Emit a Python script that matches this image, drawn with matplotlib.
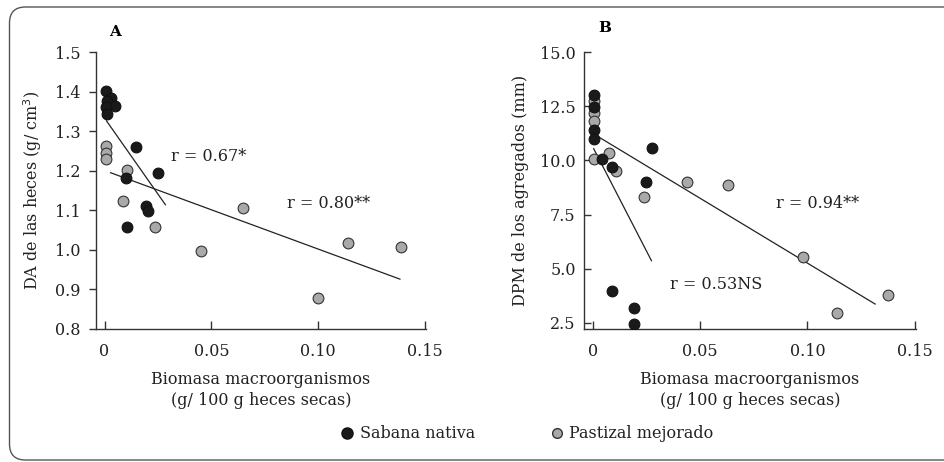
"""Macroorganism biomass vs. dung bulk density (A) and aggregate MWD (B)"""

import matplotlib
matplotlib.use("Agg")
import matplotlib.pyplot as plt
from matplotlib.patches import FancyBboxPatch
from matplotlib.lines import Line2D
from matplotlib.transforms import IdentityTransform

plt.rcParams["font.family"] = ["DejaVu Serif"]
plt.rcParams["font.size"] = 11.5

black_col = "#1a1a1a"
gray_col = "#a9a9a9"

# Panel A: DA de las heces (g/cm3)
a_nat_x = [0.0005, 0.003, 0.001, 0.005, 0.0005, 0.001, 0.0145, 0.0248, 0.0101, 0.0195, 0.0202, 0.0106]
a_nat_y = [1.402, 1.383, 1.376, 1.364, 1.362, 1.343, 1.261, 1.195, 1.182, 1.110, 1.099, 1.057]
a_pas_x = [0.0005, 0.0005, 0.0005, 0.0106, 0.0086, 0.0235, 0.0646, 0.0452, 0.1142, 0.1386, 0.1001]
a_pas_y = [1.262, 1.245, 1.230, 1.201, 1.123, 1.057, 1.106, 0.997, 1.017, 1.008, 0.879]
a_nat_fit_x = [0.0009, 0.0285]
a_nat_fit_y = [1.326, 1.114]
a_pas_fit_x = [0.0028, 0.1383]
a_pas_fit_y = [1.195, 0.926]

# Panel B: DPM de los agregados (mm)
b_nat_x = [0.0005, 0.0005, 0.0005, 0.0005, 0.0043, 0.009, 0.0277, 0.0248, 0.0092, 0.0193, 0.0192]
b_nat_y = [13.0, 12.45, 11.38, 10.97, 10.05, 9.70, 10.59, 9.00, 3.95, 3.18, 2.44]
b_pas_x = [0.0005, 0.0005, 0.0005, 0.0005, 0.0076, 0.011, 0.0438, 0.024, 0.0628, 0.0978, 0.1377, 0.1139]
b_pas_y = [12.72, 12.18, 11.82, 10.05, 10.35, 9.50, 8.98, 8.30, 8.85, 5.55, 3.78, 2.98]
b_nat_fit_x = [0.0005, 0.0274]
b_nat_fit_y = [10.54, 5.37]
b_pas_fit_x = [0.0025, 0.1315]
b_pas_fit_y = [11.10, 3.37]

x_ticks = [0, 0.05, 0.10, 0.15]
x_ticklabels = ["0", "0.05", "0.10", "0.15"]
a_yticks = [0.8, 0.9, 1.0, 1.1, 1.2, 1.3, 1.4, 1.5]
b_yticks = [2.5, 5.0, 7.5, 10.0, 12.5, 15.0]

fig = plt.figure(figsize=(9.45, 4.62), dpi=100)

# rounded frame around the figure (runs off the right edge)
frame = FancyBboxPatch((9.5, 2), 1000, 453, boxstyle="round,pad=0,rounding_size=16",
                       transform=IdentityTransform(), fill=False, ec="#555555", lw=1.0)
fig.add_artist(frame)

ax_a = fig.add_axes([0.1016, 0.2879, 0.3492, 0.5995])
ax_b = fig.add_axes([0.6180, 0.2879, 0.3513, 0.5995])

msize = 60
for ax, nx, ny, px, py in [(ax_a, a_nat_x, a_nat_y, a_pas_x, a_pas_y),
                           (ax_b, b_nat_x, b_nat_y, b_pas_x, b_pas_y)]:
    ax.scatter(px, py, s=msize, c=gray_col, edgecolors="#333333", linewidths=0.8, zorder=3)
    ax.scatter(nx, ny, s=msize, c=black_col, edgecolors="#111111", linewidths=0.8, zorder=4)
    for s in ["top", "right"]:
        ax.spines[s].set_visible(False)
    for s in ["left", "bottom"]:
        ax.spines[s].set_color("#333333")
        ax.spines[s].set_linewidth(1.0)
    ax.set_xlim(-0.004, 0.1505)
    ax.set_xticks(x_ticks)
    ax.set_xticklabels(x_ticklabels)
    ax.tick_params(axis="x", direction="in", length=6, width=1, color="#333333", pad=10,
                   labelcolor="#222222")
    ax.tick_params(axis="y", length=5, width=1, color="#333333", pad=6, labelcolor="#222222")
    ax.set_xlabel("Biomasa macroorganismos\n(g/ 100 g heces secas)", color="#222222",
                  labelpad=8, linespacing=1.3)

ax_a.plot(a_nat_fit_x, a_nat_fit_y, color="#222222", lw=0.9, zorder=2)
ax_a.plot(a_pas_fit_x, a_pas_fit_y, color="#222222", lw=0.9, zorder=2)
ax_a.set_ylim(0.8, 1.5)
ax_a.set_yticks(a_yticks)
ax_a.set_yticklabels([f"{v:.1f}" for v in a_yticks])
ax_a.tick_params(axis="y", direction="out")
ax_a.set_ylabel("DA de las heces (g/ cm$^3$)", color="#222222", labelpad=8)
ax_a.text(0.0312, 1.237, "r = 0.67*", va="center", ha="left", color="#222222")
ax_a.text(0.0854, 1.117, "r = 0.80**", va="center", ha="left", color="#222222")
ax_a.text(0.0021, 1.551, "A", fontweight="bold", ha="left", va="center", fontsize=11)

ax_b.plot(b_nat_fit_x, b_nat_fit_y, color="#222222", lw=0.9, zorder=2)
ax_b.plot(b_pas_fit_x, b_pas_fit_y, color="#222222", lw=0.9, zorder=2)
ax_b.set_ylim(2.22, 15.0)
ax_b.set_yticks(b_yticks)
ax_b.set_yticklabels([f"{v:.1f}" for v in b_yticks])
ax_b.tick_params(axis="y", direction="in")
ax_b.set_ylabel("DPM de los agregados (mm)", color="#222222", labelpad=8)
ax_b.text(0.0855, 8.01, "r = 0.94**", va="center", ha="left", color="#222222")
ax_b.text(0.036, 4.26, "r = 0.53NS", va="center", ha="left", color="#222222")
ax_b.text(0.0025, 16.1, "B", fontweight="bold", ha="left", va="center", fontsize=11)

handles = [Line2D([], [], ls="", marker="o", ms=8, mfc=black_col, mec="#111111",
                  label="Sabana nativa"),
           Line2D([], [], ls="", marker="o", ms=7, mfc=gray_col, mec="#333333",
                  label="Pastizal mejorado")]
fig.legend(handles=handles, loc="center", bbox_to_anchor=(0.557, 0.061), ncol=2,
           frameon=False, handletextpad=0.3, columnspacing=4.6, handlelength=1.0,
           labelcolor="#222222")

fig.savefig("out.png", dpi=100)
